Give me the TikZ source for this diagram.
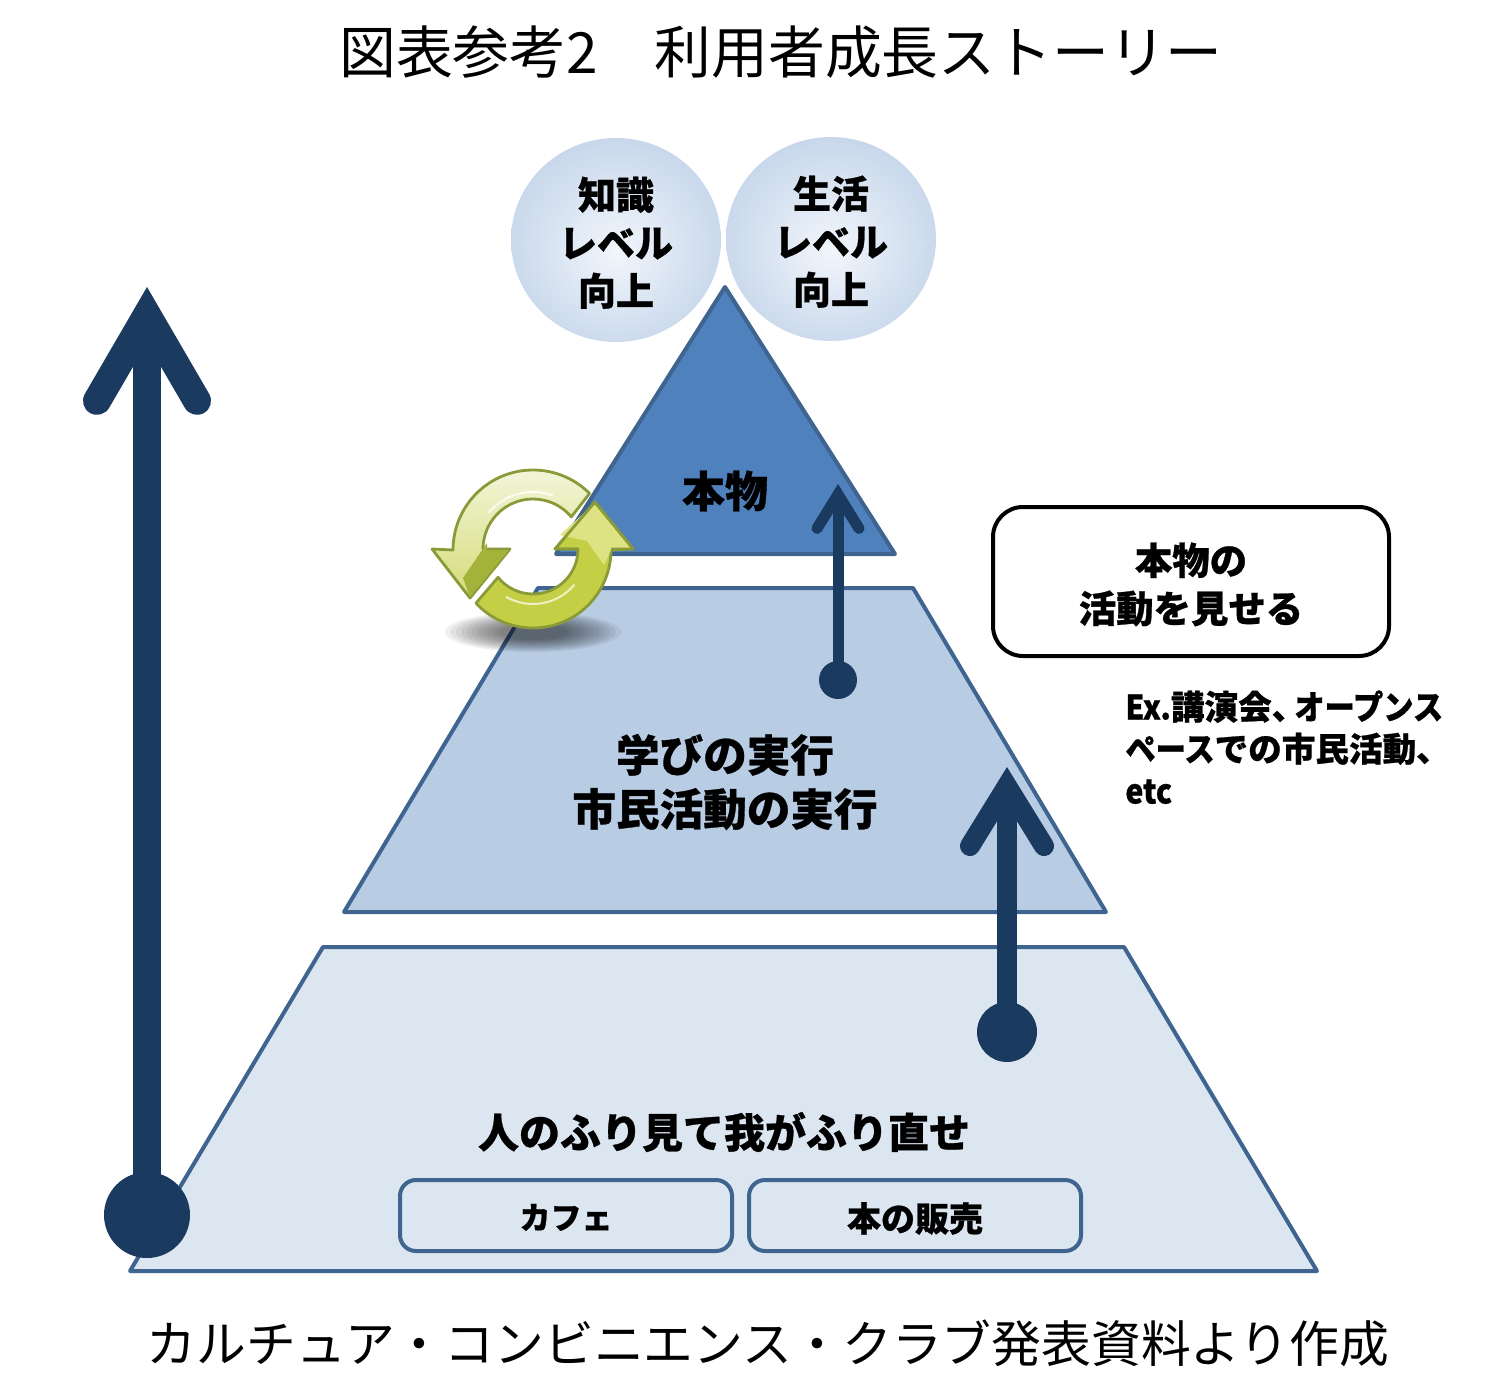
\documentclass[tikz,border=0pt]{standalone}
\usepackage{fontspec}
\usetikzlibrary{arrows.meta,shapes.geometric}
\newfontfamily\jpfont[BoldFeatures={FakeBold=0.7}]{Noto Sans CJK JP}
\newfontfamily\narrowfont[BoldFeatures={FakeBold=0.7}, FakeStretch=0.9]{Noto Sans CJK JP}
\newcommand{\lowerline}[1]{\rule{0pt}{#1pt}}
\definecolor{navy}{HTML}{1A3A5F}
\definecolor{edgeblue}{HTML}{3F6490}
\definecolor{topfill}{HTML}{4F81BD}
\definecolor{midfill}{HTML}{B8CCE4}
\definecolor{lowfill}{HTML}{DCE6F1}
\definecolor{orbin}{HTML}{F2F6FC}
\definecolor{orbout}{HTML}{B8CCE4}
\definecolor{ringedge}{HTML}{8A9A38}
\definecolor{ringlight}{HTML}{F4F7DE}
\definecolor{ringmid}{HTML}{DDE383}
\definecolor{ringdark}{HTML}{A3B23A}
\definecolor{ringlow}{HTML}{C5CF45}
\pgfdeclareradialshading{orb}{\pgfpoint{0bp}{-3bp}}{color(0bp)=(orbin); color(36bp)=(orbout); color(50bp)=(orbout)}
\tikzset{
  level/.style={draw=edgeblue, line width=2pt, line join=round},
  orbnode/.style={shape=ellipse, shading=orb, minimum width=105pt, minimum height=102pt, inner sep=0pt, align=center, font=\jpfont\bfseries\fontsize{19}{24}\selectfont},
  plaintext/.style={align=center, font=\jpfont\fontsize{#1}{#1}\selectfont},
  boldtext/.style={align=center, font=\jpfont\bfseries\fontsize{#1}{27}\selectfont},
  shopbox/.style={shape=rectangle, draw=edgeblue, line width=2pt, rounded corners=8pt, minimum width=166pt, minimum height=35.5pt},
  dotnode/.style={shape=circle, fill=navy, inner sep=0pt, minimum size=#1},
  ringline/.style={draw=ringedge, line width=1.4pt, line join=round},
}
\begin{document}
\begin{tikzpicture}[x=0.5pt, y=-0.5pt]
  \useasboundingbox (0,0) rectangle (1494,1396);

  % title and source
  \node[plaintext=28.4] (Title) at (781,52) {図表参考2　利用者成長ストーリー};
  \node[plaintext=24.9] (Source) at (768,1343) {カルチュア・コンビニエンス・クラブ発表資料より作成};

  % the three levels
  \draw[level, fill=lowfill] (130,1271) -- (323,947) -- (1124,947) -- (1317,1271) -- cycle;
  \draw[level, fill=midfill] (344,912) -- (538,588) -- (913,588) -- (1106,912) -- cycle;
  \draw[level, fill=topfill] (556,554) -- (725,287) -- (895,554) -- cycle;

  \node[orbnode] (Know) at (616,240) {\lowerline{19}知識\\レベル\\向上};
  \node[orbnode] (Life) at (831,239) {\lowerline{19}生活\\レベル\\向上};

  \node[boldtext=21.5] (Real) at (725,491) {本物};
  \node[boldtext=21.8] (Learn) at (725,782) {学びの実行\\市民活動の実行};
  \node[boldtext=20.5] (Copy) at (724,1132) {人のふり見て我がふり直せ};
  \node[shopbox, font=\jpfont\bfseries\fontsize{15.5}{20}\selectfont] (Cafe) at (566,1215.5) {\lowerline{14.5}カフェ};
  \node[shopbox, font=\jpfont\bfseries\fontsize{17}{20}\selectfont] (Books) at (915,1215.5) {\lowerline{17.5}本の販売};

  \node[shape=rectangle, draw=black, line width=2pt, rounded corners=15pt, minimum width=198pt, minimum height=74.5pt, font=\jpfont\bfseries\fontsize{18.7}{24}\selectfont, align=center] (Show) at (1191,581.5) {\lowerline{19}本物の\\活動を見せる};
  \node[anchor=north west, inner sep=0pt, align=left, font=\jpfont\bfseries\fontsize{16.8}{21}\selectfont] (Note) at (1125,690) {{\narrowfont Ex.}講演会、\hspace{-5.5pt}{\narrowfont オープンス}\\{\narrowfont ペース}での市民活動、\\{\narrowfont etc}};

  % arrows
  \node[dotnode=43pt] (DotA) at (147,1215) {};
  \node[dotnode=30pt] (DotB) at (1007,1032) {};
  \node[dotnode=19pt] (DotC) at (838,680) {};
  \coordinate (TipA) at (147,287);
  \coordinate (TipB) at (1007,767);
  \coordinate (TipC) at (838,484);
  \draw[navy, line width=14pt, -{Straight Barb[length=43pt, width=50pt, line cap=round, line join=miter]}] (DotA.center) -- (TipA);
  \draw[navy, line width=10pt, -{Straight Barb[length=30pt, width=37pt, line cap=round, line join=miter]}] (DotB.center) -- (TipB);
  \draw[navy, line width=5.5pt, -{Straight Barb[length=17pt, width=21pt, line cap=round, line join=miter]}] (DotC.center) -- (TipC);

  % cycle icon
  \foreach \r in {1,0.94,...,0.4}
    \fill[black, opacity=0.06] (533,632) ellipse ({88*\r} and {20*\r});
  \path[ringline, top color=ringlight, bottom color=ringmid!85!ringdark]
    (533,550) ++(-45:80) arc (-45:-180:80) -- (432,549) -- (470,598) -- (510,549) -- (483,549)
    arc (-180:-40:50) -- cycle;
  \fill[ringdark] (487,543) -- (463,578) -- (470,597) -- (509,550) -- (487,550) -- cycle;
  \path[ringline, fill=ringlow]
    (533,550) ++(137:78) arc (137:0:78) -- (633,549) -- (595,502) -- (555,549) -- (578,549)
    arc (0:141:45) -- cycle;
  \fill[ringmid] (594,504) -- (631,548) -- (612,548) -- (604,565) -- (587,541) -- (560,535) -- cycle;
  \draw[ringline, fill=none] (611,549) -- (633,549) -- (595,502) -- (555,549) -- (578,549);
  \draw[white, line width=1pt, opacity=0.8] (533,550) ++(-140:58) arc (-140:-70:58);
  \draw[white, line width=1pt, opacity=0.7] (533,550) ++(120:54) arc (120:40:54);
\end{tikzpicture}
\end{document}
